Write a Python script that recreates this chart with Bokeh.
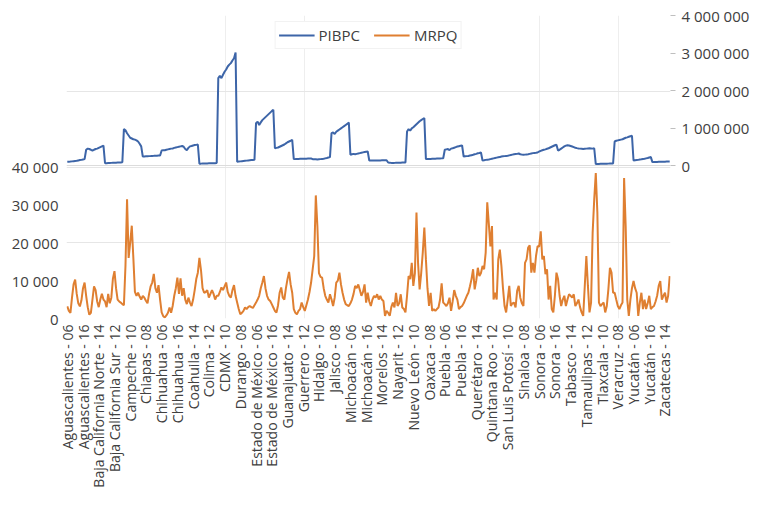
import math
from bokeh.plotting import figure
from bokeh.models import (Range1d, LinearAxis, FixedTicker, Legend, LegendItem,
                          Grid, ColumnDataSource)
from bokeh.embed import file_html
from bokeh.resources import INLINE

states = ["Aguascalientes", "Baja California Norte", "Baja California Sur", "Campeche",
          "Chiapas", "Chihuahua", "Coahuila", "Colima", "CDMX", "Durango",
          "Estado de México", "Guanajuato", "Guerrero", "Hidalgo", "Jalisco", "Michoacán",
          "Morelos", "Nayarit", "Nuevo León", "Oaxaca", "Puebla", "Querétaro",
          "Quintana Roo", "San Luis Potosí", "Sinaloa", "Sonora", "Tabasco", "Tamaulipas",
          "Tlaxcala", "Veracruz", "Yucatán", "Zacatecas"]
years = ["06", "07", "08", "09", "10", "11", "12", "13", "14", "15", "16", "17"]
categories = [f"{s} - {y}" for s in states for y in years]

# PIBPC, thousands (per state, years 06..17)
pibpc_k = [
    100, 102, 105, 110, 115, 120, 125, 135, 145, 150, 160, 170,
    420, 450, 440, 420, 395, 420, 440, 450, 470, 490, 510, 530,
    60, 62, 65, 68, 70, 72, 74, 76, 78, 80, 82, 85,
    970, 940, 860, 800, 740, 720, 700, 690, 670, 640, 580, 510,
    240, 242, 245, 247, 250, 252, 255, 257, 260, 262, 265, 268,
    400, 410, 405, 420, 430, 440, 450, 455, 470, 480, 490, 500,
    510, 520, 500, 440, 410, 470, 510, 520, 535, 545, 550, 560,
    50, 50, 52, 53, 55, 56, 57, 58, 60, 60, 62, 64,
    2330, 2390, 2330, 2420, 2500, 2560, 2640, 2690, 2730, 2800, 2860, 3010,
    100, 105, 110, 115, 120, 125, 130, 135, 140, 145, 148, 150,
    1130, 1170, 1080, 1150, 1210, 1250, 1290, 1330, 1370, 1410, 1450, 1485,
    460, 470, 480, 500, 520, 540, 560, 590, 620, 640, 660, 685,
    170, 172, 175, 176, 178, 180, 180, 182, 183, 184, 185, 186,
    170, 170, 165, 160, 165, 170, 175, 180, 190, 200, 212, 224,
    863, 880, 840, 900, 930, 960, 990, 1020, 1050, 1080, 1110, 1147,
    285, 300, 310, 300, 310, 320, 330, 340, 350, 360, 368, 373,
    133, 133, 134, 134, 135, 135, 136, 136, 137, 138, 139, 140,
    80, 75, 70, 70, 70, 71, 72, 73, 75, 78, 80, 82,
    907, 970, 930, 990, 1020, 1060, 1100, 1140, 1180, 1210, 1240, 1264,
    170, 172, 174, 176, 178, 180, 182, 184, 186, 188, 190, 192,
    420, 430, 440, 410, 450, 460, 475, 490, 505, 515, 525, 533,
    240, 245, 250, 255, 265, 275, 285, 300, 310, 325, 335, 347,
    133, 140, 150, 155, 160, 170, 180, 190, 200, 210, 218, 224,
    240, 245, 250, 255, 260, 270, 280, 290, 300, 305, 310, 320,
    300, 290, 285, 290, 295, 300, 310, 320, 330, 335, 340, 347,
    373, 390, 405, 420, 430, 445, 460, 480, 500, 520, 540, 555,
    400, 420, 450, 480, 510, 530, 540, 535, 520, 505, 490, 475,
    463, 455, 450, 445, 440, 445, 450, 455, 460, 455, 450, 460,
    37, 40, 42, 44, 45, 46, 47, 48, 50, 51, 52, 53,
    640, 660, 670, 680, 690, 700, 720, 740, 750, 765, 780, 792,
    133, 140, 145, 150, 160, 165, 175, 180, 190, 200, 215, 224,
    90, 92, 94, 96, 98, 100, 100, 102, 103, 104, 105, 106,
]

# MRPQ, thousands (per state, years 06..17)
mrpq_k = [
    3.2, 2.0, 1.5, 5.5, 9.0, 10.3, 6.5, 4.0, 3.2, 4.8, 8.0, 9.5,
    6.0, 3.0, 1.0, 1.5, 5.0, 8.5, 7.5, 4.5, 3.0, 5.0, 6.5, 5.0,
    4.5, 3.0, 6.5, 4.0, 5.5, 10.5, 12.5, 8.0, 5.0, 4.5, 4.2, 3.8,
    3.5, 14.0, 31.5, 16.0, 20.0, 24.5, 16.0, 7.0, 6.0, 6.8, 5.8, 5.0,
    6.0, 5.5, 4.7, 4.0, 6.5, 8.5, 9.5, 11.8, 8.0, 6.8, 8.8, 5.0,
    1.6, 0.6, 0.3, 0.8, 1.5, 2.9, 1.5, 3.3, 6.0, 8.0, 10.8, 6.5,
    10.6, 6.0, 8.0, 5.0, 3.8, 5.5, 4.2, 3.3, 5.0, 7.5, 10.4, 12.1,
    16.0, 12.8, 8.0, 6.8, 7.0, 7.5, 5.5, 6.5, 7.5, 6.5, 5.0, 6.0,
    6.0, 7.0, 8.2, 7.5, 8.5, 9.5, 7.0, 6.0, 5.5, 7.5, 8.8, 6.0,
    4.2, 2.5, 1.1, 1.5, 2.0, 2.9, 2.5, 3.0, 3.3, 3.0, 2.8, 3.5,
    4.2, 5.0, 6.0, 8.0, 9.5, 11.2, 8.0, 6.0, 5.0, 4.6, 3.8, 2.9,
    2.0, 1.6, 3.5, 6.8, 8.2, 5.5, 5.0, 8.0, 10.4, 12.3, 9.0, 6.8,
    2.5, 1.5, 1.1, 2.0, 2.5, 4.2, 3.0, 2.0, 3.5, 5.0, 7.0, 9.5,
    13.0, 16.5, 32.5, 24.4, 12.0, 11.0, 10.8, 8.0, 6.0, 5.0, 4.2, 6.4,
    5.0, 3.3, 5.5, 9.5, 10.0, 12.1, 9.0, 6.8, 5.0, 3.8, 3.5, 3.3,
    4.0, 5.0, 6.5, 8.6, 8.0, 9.0, 7.5, 6.0, 7.0, 9.0, 4.2, 6.8,
    4.5, 3.3, 5.0, 6.0, 5.5, 6.4, 5.0, 6.0, 5.0, 4.6, 0.7, 2.0,
    1.5, 0.7, 3.0, 4.2, 2.9, 6.8, 3.3, 4.0, 6.4, 2.9, 2.5, 1.6,
    6.0, 11.2, 10.4, 14.7, 8.6, 12.0, 28.0, 14.7, 7.7, 12.0, 17.4, 24.0,
    15.6, 8.0, 3.3, 6.8, 2.0, 2.5, 2.0, 2.5, 2.9, 5.0, 9.3, 4.2,
    3.8, 3.3, 4.0, 5.5, 2.0, 4.5, 7.5, 6.0, 5.0, 2.5, 3.0, 3.3,
    4.0, 5.0, 6.0, 6.8, 8.5, 10.4, 13.0, 7.7, 10.0, 13.4, 11.2, 12.0,
    13.9, 13.0, 17.4, 30.7, 25.0, 19.0, 24.4, 5.0, 6.8, 5.0, 15.6, 18.2,
    13.9, 8.0, 3.3, 1.6, 5.0, 8.6, 3.3, 4.0, 4.2, 2.9, 7.3, 8.6,
    5.5, 4.0, 3.3, 14.7, 15.6, 18.7, 19.3, 12.1, 14.7, 12.1, 16.5, 19.1,
    19.0, 23.0, 15.6, 16.5, 11.7, 13.0, 5.0, 8.6, 2.5, 1.6, 6.0, 12.1,
    10.4, 6.0, 3.3, 5.0, 6.0, 3.3, 5.0, 6.4, 6.0, 5.5, 6.4, 3.3,
    4.0, 5.0, 3.0, 1.6, 0.7, 8.6, 16.5, 8.6, 1.6, 4.2, 22.6, 31.4,
    38.4, 28.0, 4.2, 3.3, 3.8, 4.2, 1.6, 3.3, 7.7, 13.4, 12.1, 6.8,
    6.8, 5.0, 3.3, 2.5, 3.5, 4.2, 37.1, 24.4, 5.0, 0.7, 5.0, 8.0,
    9.9, 8.0, 6.8, 0.7, 4.2, 6.8, 2.5, 5.0, 2.5, 4.0, 6.0, 2.5,
    3.0, 3.3, 4.5, 6.0, 8.6, 9.9, 5.0, 6.0, 6.8, 4.2, 6.0, 11.2,
]

left_ticks = [0, 10000, 20000, 30000, 40000]
right_ticks = [0, 1000000, 2000000, 3000000, 4000000]
label_step = 10

def fmt(v):
    return f"{v:,}".replace(",", " ")

idx = list(range(len(categories)))
src = ColumnDataSource(dict(
    x=idx,
    pibpc=[v * 1000 for v in pibpc_k],
    mrpq=[v * 1000 for v in mrpq_k],
))

FONT = "Open Sans"
TXT = "#404040"

p = figure(frame_width=604, frame_height=303, output_backend="svg",
           toolbar_location=None,
           x_range=Range1d(-0.5, len(categories) - 0.5),
           y_range=Range1d(0, 80000),
           min_border_left=66, min_border_right=83, min_border_top=15,
           min_border_bottom=0)
p.extra_y_ranges = {"right": Range1d(-4080000, 4000000)}
p.outline_line_color = None
p.background_fill_color = "white"

# left axis
ya = p.yaxis[0]
ya.ticker = FixedTicker(ticks=left_ticks)
ya.major_label_overrides = {t: fmt(t) for t in left_ticks}
ya.axis_line_color = None
ya.major_tick_line_color = None
ya.major_tick_out = 0
ya.major_tick_in = 0
ya.minor_tick_line_color = None
ya.minor_tick_out = 0
ya.major_label_text_font = FONT
ya.major_label_text_font_size = "15px"
ya.major_label_text_color = TXT
ya.major_label_standoff = 8

# right axis
ra = LinearAxis(y_range_name="right", ticker=FixedTicker(ticks=right_ticks))
ra.major_label_overrides = {t: fmt(t) for t in right_ticks}
ra.axis_line_color = None
ra.major_tick_line_color = "#bfbfbf"
ra.major_tick_out = 5
ra.major_tick_in = 0
ra.minor_tick_line_color = None
ra.minor_tick_out = 0
ra.major_label_text_font = FONT
ra.major_label_text_font_size = "15px"
ra.major_label_text_color = TXT
ra.major_label_standoff = 6
p.add_layout(ra, "right")

# x axis
xa = p.xaxis[0]
xticks = idx[::label_step]
xa.ticker = FixedTicker(ticks=xticks)
xa.major_label_overrides = {t: categories[t] for t in xticks}
xa.major_label_orientation = math.pi / 2
xa.axis_line_color = None
xa.major_tick_line_color = None
xa.major_tick_out = 0
xa.major_tick_in = 0
xa.minor_tick_line_color = None
xa.minor_tick_out = 0
xa.major_label_text_font = FONT
xa.major_label_text_font_size = "14px"
xa.major_label_text_color = TXT
xa.major_label_standoff = 6

# grids
p.ygrid.ticker = FixedTicker(ticks=[20000, 40000, 60000])
p.ygrid.grid_line_color = "#e6e6e6"
p.xgrid.ticker = FixedTicker(ticks=[100.5, 150.5, 300.5, 350.5])
p.xgrid.grid_line_color = "#eeeeee"
rg = Grid(dimension=1, ticker=FixedTicker(ticks=[0]), y_range_name="right",
          grid_line_color="#dcdcdc")
p.add_layout(rg)

r1 = p.line("x", "pibpc", source=src, y_range_name="right", color="#3D65A8",
            line_width=2)
r2 = p.line("x", "mrpq", source=src, color="#DF7F31", line_width=2)

leg = Legend(items=[LegendItem(label="PIBPC", renderers=[r1]),
                    LegendItem(label="MRPQ", renderers=[r2])],
             orientation="horizontal", location="top_center")
leg.label_text_font = FONT
leg.label_text_font_size = "15px"
leg.label_text_color = TXT
leg.glyph_width = 36
leg.glyph_height = 14
leg.label_height = 14
leg.label_standoff = 4
leg.spacing = 14
leg.padding = 3
leg.margin = 6
leg.border_line_color = "#e6e6e6"
leg.background_fill_color = "white"
leg.background_fill_alpha = 1.0
p.add_layout(leg, "center")

open("out.html", "w").write(file_html(p, INLINE))
